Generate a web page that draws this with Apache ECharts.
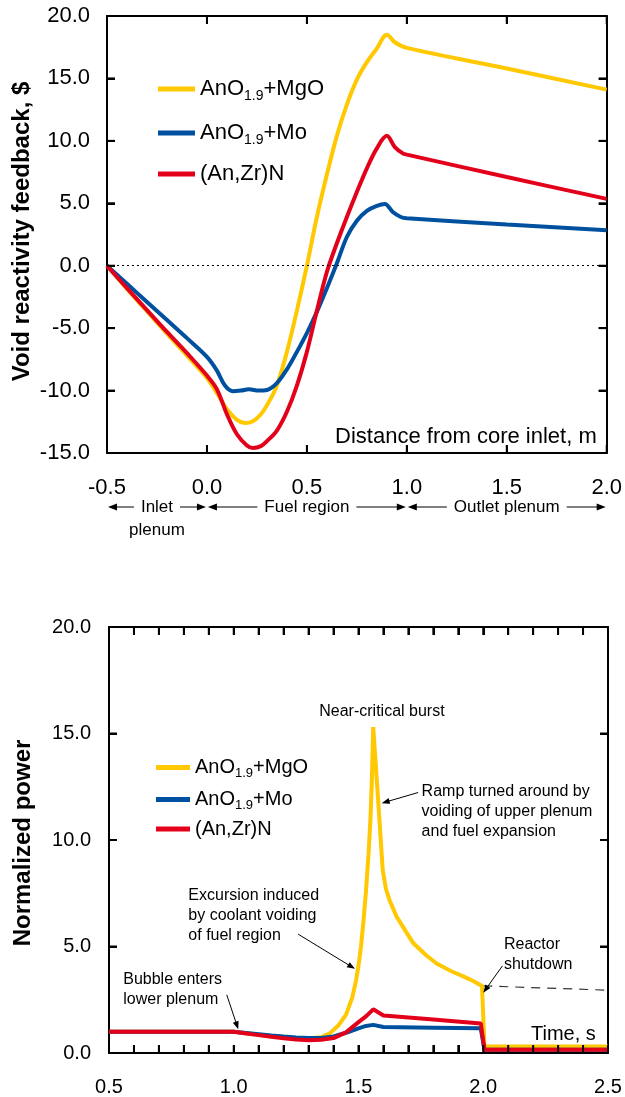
<!DOCTYPE html>
<html>
<head>
<meta charset="utf-8">
<script src="https://cdn.jsdelivr.net/npm/echarts@6/dist/echarts.min.js"></script>
<style>
  html, body { margin: 0; padding: 0; background: #fff; }
  #chart { width: 625px; height: 1097px; }
</style>
</head>
<body>
<div id="chart"></div>
<script>
// ---- Fuel types ----
const seriesNames = ['AnO1.9+MgO', 'AnO1.9+Mo', '(An,Zr)N'];
const seriesColors = ['#FFC800', '#0050A0', '#E3001B'];

// ---- Void reactivity feedback ($) vs distance from core inlet (m) ----
const voidMgO = [[-0.5,0],[-0.4,-1.85],[-0.3,-3.65],[-0.2,-5.45],[-0.1,-7.2],[0.0,-9.0],[0.05,-10.2],[0.1,-11.5],[0.15,-12.35],[0.19,-12.6],[0.23,-12.45],[0.27,-11.9],[0.31,-10.9],[0.35,-9.6],[0.4,-6.9],[0.45,-3.6],[0.5,0.0],[0.55,3.9],[0.6,7.3],[0.65,10.4],[0.7,12.9],[0.75,14.9],[0.8,16.3],[0.85,17.4],[0.9,18.5],[0.94,17.9],[1.0,17.45],[1.5,15.8],[2.0,14.1]];
const voidMo = [[-0.5,0],[-0.4,-1.45],[-0.3,-2.9],[-0.2,-4.35],[-0.1,-5.8],[0.0,-7.3],[0.05,-8.4],[0.09,-9.6],[0.13,-10.05],[0.17,-10.0],[0.21,-9.9],[0.26,-10.0],[0.3,-9.95],[0.35,-9.4],[0.4,-8.3],[0.45,-6.9],[0.5,-5.4],[0.55,-3.7],[0.6,-1.8],[0.65,0.2],[0.7,2.3],[0.75,3.6],[0.8,4.4],[0.85,4.8],[0.89,4.95],[0.93,4.3],[0.97,3.9],[1.0,3.8],[1.5,3.3],[2.0,2.85]];
const voidZrN = [[-0.5,0],[-0.4,-1.8],[-0.3,-3.55],[-0.2,-5.3],[-0.1,-7.0],[0.0,-8.8],[0.05,-9.9],[0.1,-11.9],[0.15,-13.5],[0.2,-14.4],[0.23,-14.6],[0.27,-14.45],[0.3,-14.05],[0.35,-13.2],[0.4,-11.7],[0.45,-9.6],[0.5,-6.9],[0.55,-3.6],[0.6,-0.5],[0.65,1.8],[0.7,3.9],[0.75,5.9],[0.8,7.8],[0.85,9.4],[0.9,10.4],[0.94,9.5],[0.98,9.0],[1.0,8.9],[1.5,7.1],[2.0,5.35]];

// ---- Normalized power vs time (s) ----
const powerMgO = [[0.5,1.0],[1.0,1.0],[1.05,0.93],[1.1,0.86],[1.15,0.8],[1.2,0.75],[1.25,0.71],[1.3,0.69],[1.35,0.74],[1.385,0.92],[1.42,1.3],[1.45,1.8],[1.475,2.6],[1.49,3.4],[1.5,4.1],[1.51,5.0],[1.52,6.2],[1.53,7.6],[1.54,9.3],[1.548,11.0],[1.554,13.0],[1.559,15.3],[1.578,12.0],[1.597,8.6],[1.61,7.7],[1.625,7.15],[1.653,6.4],[1.69,5.7],[1.72,5.15],[1.77,4.6],[1.813,4.2],[1.87,3.85],[1.92,3.6],[1.96,3.38],[1.995,3.15],[2.005,0.3],[2.5,0.3]];
const powerMo = [[0.5,1.0],[1.0,1.0],[1.05,0.94],[1.1,0.88],[1.15,0.82],[1.2,0.77],[1.25,0.73],[1.3,0.7],[1.35,0.71],[1.4,0.78],[1.45,0.95],[1.5,1.16],[1.53,1.27],[1.559,1.32],[1.6,1.22],[1.8,1.19],[1.99,1.16],[2.005,0.15],[2.5,0.15]];
const powerZrN = [[0.5,1.0],[1.0,1.0],[1.05,0.92],[1.1,0.84],[1.15,0.76],[1.2,0.69],[1.25,0.63],[1.3,0.6],[1.35,0.62],[1.4,0.7],[1.45,0.97],[1.5,1.45],[1.53,1.72],[1.559,2.05],[1.6,1.76],[1.8,1.57],[1.99,1.39],[2.005,0.15],[2.5,0.15]];
// power level the burst would have held without the shutdown
const powerHeld = [[2.0,3.15],[2.5,2.95]];

// ---- Tick values ----
const distanceTicks = [-0.5, 0.0, 0.5, 1.0, 1.5, 2.0];
const reactivityTicks = [-15, -10, -5, 0, 5, 10, 15, 20];
const timeTicks = [0.5, 1.0, 1.5, 2.0, 2.5];
const timeTickStep = 0.1;
const powerTicks = [0, 5, 10, 15, 20];

// ---- Text ----
const reactivityTitle = 'Void reactivity feedback, $';
const powerTitle = 'Normalized power';
const distanceName = 'Distance from core inlet, m';
const timeName = 'Time, s';
const coreRegions = [
  { name: 'Inlet', sub: 'plenum', from: -0.5, to: 0.0 },
  { name: 'Fuel region', from: 0.0, to: 1.0 },
  { name: 'Outlet plenum', from: 1.0, to: 2.0 }
];
const powerNotes = [
  { text: 'Near-critical burst', at: [1.594, 16.02], align: 'center' },
  { text: 'Ramp turned around by\nvoiding of upper plenum\nand fuel expansion', at: [1.753, 12.28], align: 'left' },
  { text: 'Excursion induced\nby coolant voiding\nof fuel region', at: [0.818, 7.38], align: 'left' },
  { text: 'Bubble enters\nlower plenum', at: [0.557, 3.46], align: 'left' },
  { text: 'Reactor\nshutdown', at: [2.083, 5.08], align: 'left' }
];
const powerNoteArrows = [
  [[1.739, 12.23], [1.593, 11.73]],
  [[1.258, 5.58], [1.486, 3.95]],
  [[0.972, 2.73], [1.018, 1.11]],
  [[2.077, 4.09], [2.0, 2.83]]
];

const FONT = '"Liberation Sans", Arial, Helvetica, sans-serif';
const TICK_LEN = 8;
const chart = echarts.init(document.getElementById('chart'));

function ticksRange(t, step) {
  return { min: t[0], max: t[t.length - 1], interval: step || (t[1] - t[0]) };
}

// labels only on the listed tick values
function tickLabel(ticks) {
  return v => ticks.some(t => Math.abs(t - v) < 1e-6) ? v.toFixed(1) : '';
}

function axis(gridIndex, position, ticks, step, labelSize, labelMargin) {
  return {
    type: 'value',
    gridIndex,
    position,
    ...ticksRange(ticks, step),
    axisLine: { show: true, onZero: false, lineStyle: { color: '#000', width: 2 } },
    axisTick: { show: true, inside: true, length: TICK_LEN, lineStyle: { color: '#000', width: 2 } },
    axisLabel: labelSize ? {
      show: true, color: '#000', fontFamily: FONT, fontSize: labelSize, margin: labelMargin,
      formatter: tickLabel(ticks)
    } : { show: false },
    splitLine: { show: false }
  };
}

function legend(top, left, fontSize, subSize, subPad, gap, iconWidth) {
  return {
    data: seriesNames,
    orient: 'vertical',
    left, top,
    itemWidth: iconWidth,
    itemHeight: 5,
    itemGap: gap,
    icon: 'rect',
    selectedMode: false,
    formatter: name => name.indexOf('1.9') >= 0
      ? '{m|' + name.replace('1.9', '}{s|1.9}{m|') + '}'
      : '{m|' + name + '}',
    textStyle: {
      color: '#000', fontFamily: FONT, fontSize,
      rich: {
        m: { color: '#000', fontFamily: FONT, fontSize, lineHeight: fontSize + 4 },
        s: { color: '#000', fontFamily: FONT, fontSize: subSize, lineHeight: subSize, padding: [subPad, 0, 0, 0] }
      }
    }
  };
}

function curve(name, data, color, axisIndex, smooth, extra) {
  return Object.assign({
    type: 'line',
    name,
    data,
    xAxisIndex: axisIndex,
    yAxisIndex: axisIndex,
    symbol: 'none',
    showSymbol: false,
    smooth,
    lineStyle: { color, width: 4 },
    itemStyle: { color },
    emphasis: { disabled: true },
    z: 3
  }, extra || {});
}

chart.setOption({
  animation: false,
  backgroundColor: '#fff',
  grid: [
    { left: 107, top: 16, width: 503, height: 437 },
    { left: 109, top: 627, width: 499, height: 426 }
  ],
  xAxis: [
    axis(0, 'bottom', distanceTicks, 0, 22, 24),
    axis(0, 'top', distanceTicks, 0, 0, 0),
    axis(1, 'bottom', timeTicks, timeTickStep, 20, 24),
    axis(1, 'top', timeTicks, timeTickStep, 0, 0)
  ],
  yAxis: [
    axis(0, 'left', reactivityTicks, 0, 22, 17),
    axis(0, 'right', reactivityTicks, 0, 0, 0),
    axis(1, 'left', powerTicks, 0, 20, 18),
    axis(1, 'right', powerTicks, 0, 0, 0)
  ],
  legend: [
    legend(70, 153, 22, 14, 14, 16, 37),
    legend(750, 151, 20, 13, 12, 7, 34)
  ],
  series: [
    curve(seriesNames[0], voidMgO, seriesColors[0], 0, 0.35, {
      markLine: {
        silent: true, symbol: 'none', label: { show: false },
        lineStyle: { color: '#000', width: 1, type: [2, 3] },
        emphasis: { disabled: true },
        data: [{ yAxis: 0 }]
      }
    }),
    curve(seriesNames[1], voidMo, seriesColors[1], 0, 0.35),
    curve(seriesNames[2], voidZrN, seriesColors[2], 0, 0.35),
    {
      type: 'line', name: 'held power', data: powerHeld, xAxisIndex: 2, yAxisIndex: 2,
      symbol: 'none', lineStyle: { color: '#333', width: 1.2, type: [9, 7] }, z: 2,
      emphasis: { disabled: true }
    },
    curve(seriesNames[0], powerMgO, seriesColors[0], 2, false),
    curve(seriesNames[1], powerMo, seriesColors[1], 2, false),
    curve(seriesNames[2], powerZrN, seriesColors[2], 2, false)
  ]
});

// ---- Text, arrows and frame ticks placed through the axes' own scales ----
function overlay() {
  const els = [];
  const px = (grid, pt) => chart.convertToPixel({ xAxisIndex: grid * 2, yAxisIndex: grid * 2 }, pt);
  const ctx = document.createElement('canvas').getContext('2d');
  const textWidth = (t, size) => { ctx.font = size + 'px ' + FONT; return ctx.measureText(t).width; };

  const seg = (a, b, w) => ({
    type: 'line', silent: true, z: 10,
    shape: { x1: a[0], y1: a[1], x2: b[0], y2: b[1] },
    style: { stroke: '#000', lineWidth: w || 1 }
  });
  const head = (tip, from, len, half) => {
    const dx = tip[0] - from[0], dy = tip[1] - from[1];
    const d = Math.hypot(dx, dy), ux = dx / d, uy = dy / d;
    const bx = tip[0] - ux * len, by = tip[1] - uy * len;
    return {
      type: 'polygon', silent: true, z: 10,
      shape: { points: [tip, [bx - uy * half, by + ux * half], [bx + uy * half, by - ux * half]] },
      style: { fill: '#000' }
    };
  };
  const arrow = (from, to, len, half) => {
    const dx = to[0] - from[0], dy = to[1] - from[1];
    const d = Math.hypot(dx, dy);
    const end = [to[0] - dx / d * len * 0.7, to[1] - dy / d * len * 0.7];
    els.push(seg(from, end), head(to, from, len, half));
  };
  const text = (str, x, y, size, align, vAlign) => ({
    type: 'text', silent: true, z: 10, x, y,
    style: {
      text: str, fill: '#000', font: size + 'px ' + FONT,
      align, verticalAlign: vAlign, lineHeight: 20
    }
  });

  // frame edges of both plots
  const frame = (grid, xT, yT) => {
    const lo = px(grid, [xT[0], yT[0]]);
    const hi = px(grid, [xT[xT.length - 1], yT[yT.length - 1]]);
    return { left: lo[0], bottom: lo[1], right: hi[0], top: hi[1] };
  };
  const f0 = frame(0, distanceTicks, reactivityTicks);
  const f1 = frame(1, timeTicks, powerTicks);

  // inward ticks on all four sides
  const frameTicks = (grid, f, xVals, yVals) => {
    xVals.forEach(v => {
      const x = px(grid, [v, 0])[0];
      els.push(seg([x, f.bottom], [x, f.bottom - TICK_LEN], 2), seg([x, f.top], [x, f.top + TICK_LEN], 2));
    });
    yVals.forEach(v => {
      const y = px(grid, [0, v])[1];
      els.push(seg([f.left, y], [f.left + TICK_LEN, y], 2), seg([f.right, y], [f.right - TICK_LEN, y], 2));
    });
  };
  const timeSteps = [];
  const nSteps = Math.round((timeTicks[timeTicks.length - 1] - timeTicks[0]) / timeTickStep);
  for (let i = 0; i <= nSteps; i++) timeSteps.push(timeTicks[0] + i * timeTickStep);
  frameTicks(0, f0, distanceTicks, reactivityTicks);
  frameTicks(1, f1, timeSteps, powerTicks);

  // axis titles
  els.push({
    type: 'text', silent: true, x: 22, y: (f0.top + f0.bottom) / 2 - 3, rotation: Math.PI / 2,
    style: { text: reactivityTitle, fill: '#000', font: 'bold 24px ' + FONT, align: 'center', verticalAlign: 'middle' }
  });
  els.push({
    type: 'text', silent: true, x: 23, y: (f1.top + f1.bottom) / 2 + 3, rotation: Math.PI / 2,
    style: { text: powerTitle, fill: '#000', font: 'bold 24px ' + FONT, align: 'center', verticalAlign: 'middle' }
  });

  // in-plot axis names
  const dn = px(0, [1.95, -13.69]);
  els.push(text(distanceName, dn[0], dn[1], 22, 'right', 'middle'));
  const tn = px(1, [2.451, 0.89]);
  els.push(text(timeName, tn[0], tn[1], 20, 'right', 'middle'));

  // core regions under the distance axis
  const rowY = f0.bottom + 54;
  const regionSize = 17;
  coreRegions.forEach(r => {
    const x0 = px(0, [r.from, 0])[0] + 1;
    const x1 = px(0, [r.to, 0])[0] - 1;
    const cx = (x0 + x1) / 2;
    const w = textWidth(r.name, regionSize);
    const gap = 7;
    els.push(text(r.name, cx, rowY, regionSize, 'center', 'middle'));
    if (r.sub) els.push(text(r.sub, cx, rowY + 23, regionSize, 'center', 'middle'));
    arrow([cx - w / 2 - gap, rowY], [x0, rowY], 9, 3.5);
    arrow([cx + w / 2 + gap, rowY], [x1, rowY], 9, 3.5);
  });

  // notes on the power plot
  powerNotes.forEach(n => {
    const p = px(1, n.at);
    els.push(text(n.text, p[0], p[1] - 10, 16, n.align, 'top'));
  });
  powerNoteArrows.forEach(a => {
    arrow(px(1, a[0]), px(1, a[1]), 8, 3);
  });

  chart.setOption({ graphic: { elements: els } });
}
overlay();
</script>
</body>
</html>
